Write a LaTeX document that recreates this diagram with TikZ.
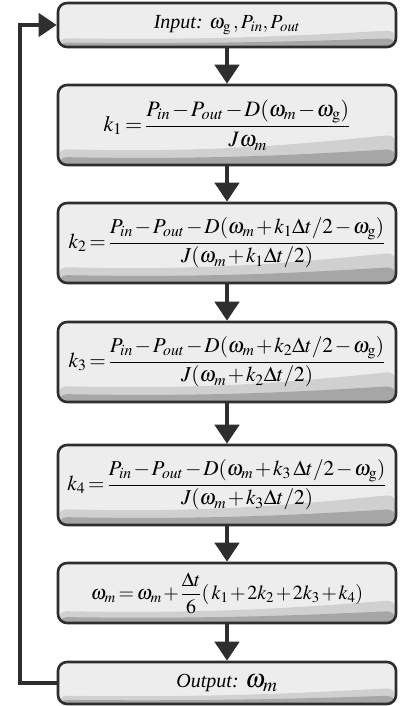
\documentclass[tikz,border=0pt]{standalone}
\usepackage{amsmath}
\usepackage{mathptmx}
\usepackage{fontspec}
\setmainfont{Liberation Serif}
\usetikzlibrary{arrows.meta,calc}
\definecolor{bord}{HTML}{2E2E2E}
\definecolor{boxfill}{HTML}{EDEDED}
\definecolor{swa}{HTML}{D0D0D0}
\definecolor{swb}{HTML}{A6A6A6}
\newcommand{\tightmath}{\medmuskip=1.5mu\thickmuskip=2.5mu}
\begin{document}
\begin{tikzpicture}[x=1pt,y=1pt,
  stepbox/.style={draw=bord, line width=2.6pt, rounded corners=9pt, fill=boxfill,
    minimum width=338pt, inner sep=0pt, font=\fontsize{20}{23}\selectfont,
    path picture={
      \coordinate (SW) at (path picture bounding box.south west);
      \coordinate (NW) at (path picture bounding box.north west);
      \coordinate (SE) at (path picture bounding box.south east);
      \coordinate (NE) at (path picture bounding box.north east);
      \coordinate (S) at (path picture bounding box.south);
      \coordinate (N) at (path picture bounding box.north);
      \fill[swa] ($(SW)!0.2!(NW)$) .. controls ($(S)!0.14!(N)$) and ($(SE)!0.3!(NE)+(-70pt,0)$) .. ($(SE)!0.38!(NE)$) -- (SE) -- (SW) -- cycle;
      \fill[swb] ($(SW)!0.1!(NW)$) .. controls ($(S)!0.06!(N)$) and ($(SE)!0.15!(NE)+(-70pt,0)$) .. ($(SE)!0.2!(NE)$) -- (SE) -- (SW) -- cycle;
    }},
  eqbox/.style={stepbox, minimum height=80pt, font=\fontsize{21.2}{24}\selectfont\tightmath},
  flow/.style={draw=bord, line width=4.5pt, -{Triangle[width=24pt,length=19pt]}},
  fb/.style={draw=bord, line width=4pt, -{Triangle[width=23pt,length=18pt]}}
]
\useasboundingbox (0,0) rectangle (399,706);
\node[stepbox, minimum height=44pt] (in) at (227,681) {\textit{Input:} $\omega_{\mathrm{g}}\,, P_{in}, P_{out}$};
\node[eqbox, font=\fontsize{22}{25}\selectfont\tightmath] (k1) at (227,581) {$k_1=\dfrac{P_{in}-P_{out}-D(\omega_m-\omega_{\mathrm{g}})}{J\omega_m}$};
\node[eqbox] (k2) at (227,463) {$k_2=\dfrac{P_{in}-P_{out}-D(\omega_m+k_1\Delta t/2-\omega_{\mathrm{g}})}{J(\omega_m+k_1\Delta t/2)}$};
\node[eqbox] (k3) at (227,344) {$k_3=\dfrac{P_{in}-P_{out}-D(\omega_m+k_2\Delta t/2-\omega_{\mathrm{g}})}{J(\omega_m+k_2\Delta t/2)}$};
\node[eqbox] (k4) at (227,221) {$k_4=\dfrac{P_{in}-P_{out}-D(\omega_m+k_3\,\Delta t/2-\omega_{\mathrm{g}})}{J(\omega_m+k_3\Delta t/2)}$};
\node[stepbox, minimum height=60pt, font=\fontsize{20}{23}\selectfont\tightmath] (om) at (227,113) {$\omega_m=\omega_m+\dfrac{\Delta t}{6}(\,k_1+2k_2+2k_3+k_4)$};
\node[stepbox, minimum height=42pt] (out) at (227,23) {\textit{Output:} {\fontsize{26}{28}\selectfont$\omega_m$}};
\coordinate (c) at (20,0);
\draw[flow] (in) -- (k1);
\draw[flow] (k1) -- (k2);
\draw[flow] (k2) -- (k3);
\draw[flow] (k3) -- (k4);
\draw[flow] (k4) -- (om);
\draw[flow] (om) -- (out);
\draw[fb] (out.west) -- (out.west -| c) -- (in.west -| c) -- (in.west);
\end{tikzpicture}
\end{document}
